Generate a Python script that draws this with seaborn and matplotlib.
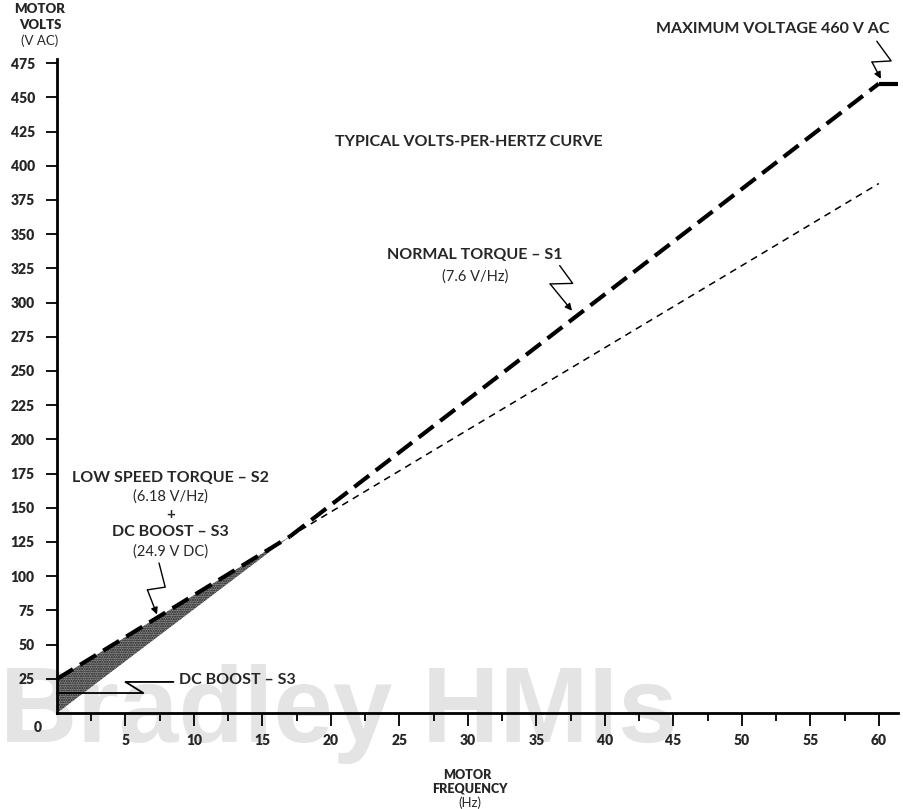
import matplotlib
matplotlib.use("Agg")
import matplotlib.pyplot as plt
import seaborn as sns

# =========================
# data (Hz -> V AC)
# =========================
s1_freq = [17.0, 60.0]          # normal torque, 7.6 V/Hz
s1_volts = [129, 460]
max_freq = [60.0, 61.4]         # clamp at max voltage
max_volts = [460, 460]
s2_freq = [0.0, 17.0]           # low speed torque + dc boost
s2_volts = [24.9, 129]
s2_ext_freq = [17.0, 60.0]
s2_ext_volts = [129, 387]
shade_freq = [0.0, 17.0]
shade_low = [0.0, 129]
shade_high = [24.9, 129]

x_major = [5, 10, 15, 20, 25, 30, 35, 40, 45, 50, 55, 60]
x_minor = [2.5, 7.5, 12.5, 17.5, 22.5, 27.5, 32.5, 37.5, 42.5, 47.5, 52.5, 57.5]
y_ticks = [25, 50, 75, 100, 125, 150, 175, 200, 225, 250, 275, 300,
           325, 350, 375, 400, 425, 450, 475]

sns.set_theme(style="ticks")
plt.rcParams['font.family'] = ['Lato', 'DejaVu Sans']

W, H = 904, 809
fig = plt.figure(figsize=(W / 100, H / 100), dpi=100)
ax = fig.add_axes([57 / W, 1 - 713 / H, (898 - 57) / W, (713 - 59) / H])
ax.patch.set_alpha(0)

# watermark
ax.text(0.0, 1 - 742 / H, "Bradley HMIs", transform=fig.transFigure,
        fontsize=77, fontweight='bold', color='#e4e4e4',
        family=['Liberation Sans', 'DejaVu Sans'], zorder=0.5)

# shaded boost region
ax.fill_between(shade_freq, shade_low, shade_high, facecolor='#8a8a8a',
                edgecolor='#1a1a1a', hatch='.......', linewidth=0, zorder=1)

thick = (0, (4.5, 2.0))
thin = (0, (4.5, 3.5))
sns.lineplot(x=s1_freq, y=s1_volts, ax=ax, color='black', lw=3.0,
             linestyle=thick, zorder=3)
sns.lineplot(x=s2_freq, y=s2_volts, ax=ax, color='black', lw=3.0,
             linestyle=thick, zorder=3)
sns.lineplot(x=s2_ext_freq, y=s2_ext_volts, ax=ax, color='black', lw=1.1,
             linestyle=thin, zorder=3)
sns.lineplot(x=max_freq, y=max_volts, ax=ax, color='black', lw=3.0,
             zorder=3, solid_capstyle='butt')
for ln in ax.lines:
    ln.set_clip_on(False)

ax.set_xlim(0, 61.4)
ax.set_ylim(0, 478)

ax.set_xticks(x_major)
ax.set_xticks(x_minor, minor=True)
ax.set_yticks(y_ticks)
ax.set_xticklabels([str(v) for v in x_major])
ax.set_yticklabels([str(v) for v in y_ticks])
ax.tick_params(axis='x', which='major', length=9, width=1.3, pad=6,
               labelsize=10, color='black')
ax.tick_params(axis='x', which='minor', length=6, width=1.3, color='black')
ax.tick_params(axis='y', which='major', length=8, width=1.3, pad=8,
               labelsize=10, color='black')
for lab in ax.get_xticklabels() + ax.get_yticklabels():
    lab.set_fontweight('heavy')

sns.despine(ax=ax)
for side in ['left', 'bottom']:
    ax.spines[side].set_linewidth(2.0)
    ax.spines[side].set_color('black')

ax.text(-19 / 13.7, -14 / 1.368, "0", ha='center', va='center',
        fontsize=10, fontweight='heavy')

# axis titles
fig.text(40 / W, 1 - 9 / H, "MOTOR", ha='center', va='center',
         fontsize=9.5, fontweight='heavy')
fig.text(40 / W, 1 - 25 / H, "VOLTS", ha='center', va='center',
         fontsize=9.5, fontweight='heavy')
fig.text(40 / W, 1 - 41 / H, "(V AC)", ha='center', va='center', fontsize=9.5)
fig.text(467 / W, 1 - 775 / H, "MOTOR", ha='center', va='center',
         fontsize=9, fontweight='heavy')
fig.text(470 / W, 1 - 789 / H, "FREQUENCY", ha='center', va='center',
         fontsize=9, fontweight='heavy')
fig.text(470 / W, 1 - 803 / H, "(Hz)", ha='center', va='center', fontsize=9.5)

# labels
bold = dict(ha='center', va='center', fontweight='bold', fontsize=11.5)
small = dict(ha='center', va='center', fontsize=10.5)
ax.text(30.1, 417, "TYPICAL VOLTS-PER-HERTZ CURVE", **bold)
ax.text(30.5, 335, "NORMAL TORQUE \u2013 S1", **bold)
ax.text(30.5, 319, "(7.6 V/Hz)", **small)
ax.text(60.8, 500, "MAXIMUM VOLTAGE 460 V AC", ha='right', va='center',
        fontweight='bold', fontsize=11.5)
ax.text(8.3, 172, "LOW SPEED TORQUE \u2013 S2", **bold)
ax.text(8.3, 158, "(6.18 V/Hz)", **small)
ax.text(8.3, 145, "+", ha='center', va='center', fontweight='bold', fontsize=11)
ax.text(8.3, 132, "DC BOOST \u2013 S3", **bold)
ax.text(8.3, 118, "(24.9 V DC)", **small)
ax.text(8.9, 24, "DC BOOST \u2013 S3", ha='left', va='center',
        fontweight='bold', fontsize=11.5)


def zigzag(pts):
    xs = [p[0] for p in pts[:-1]]
    ys = [p[1] for p in pts[:-1]]
    ax.plot(xs, ys, color='black', lw=1.0, clip_on=False, zorder=4)
    ax.annotate("", xy=pts[-1], xytext=pts[-2],
                arrowprops=dict(arrowstyle='-|>', color='black', lw=1.0,
                                mutation_scale=10, shrinkA=0, shrinkB=0),
                annotation_clip=False)


zigzag([(36.7, 327), (37.65, 314), (36.0, 313.6), (37.6, 294)])
zigzag([(59.85, 491), (60.9, 476.6), (59.5, 475.8), (60.15, 463.5)])
zigzag([(7.45, 109.6), (7.9, 92), (6.6, 90), (7.3, 72)])

# dc boost bracket line
ax.plot([8.5, 5.0, 6.3, 0.0], [22.7, 22.7, 14.6, 14.6], color='black',
        lw=1.3, clip_on=False, zorder=4)

fig.savefig("out.png", dpi=100)
